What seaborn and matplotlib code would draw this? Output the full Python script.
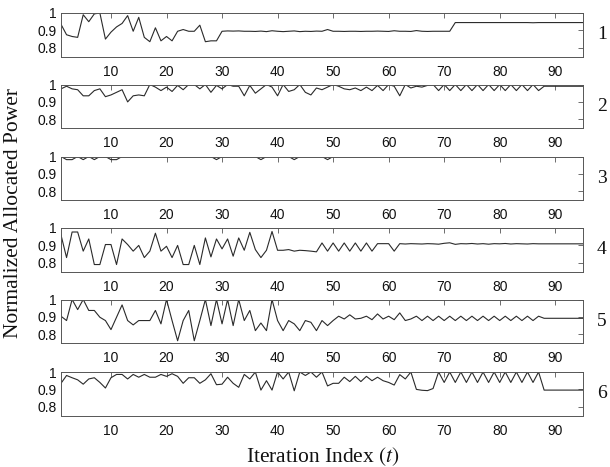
import matplotlib
matplotlib.use("Agg")
import matplotlib.pyplot as plt
import numpy as np
import pandas as pd
import seaborn as sns

# ---------------- data ----------------
t = list(range(1, 96))

p1 = [0.935, 0.875, 0.865, 0.86, 0.99, 0.95, 0.995, 1.0, 0.85, 0.89,
      0.92, 0.94, 0.985, 0.895, 0.975, 0.86, 0.835, 0.915, 0.84, 0.865,
      0.84, 0.895, 0.905, 0.895, 0.895, 0.93, 0.835, 0.84, 0.84, 0.895,
      0.897, 0.896, 0.897, 0.895, 0.895, 0.894, 0.896, 0.893, 0.898, 0.895,
      0.893, 0.895, 0.897, 0.893, 0.895, 0.894, 0.896, 0.895, 0.905, 0.895,
      0.895, 0.894, 0.895, 0.895, 0.894, 0.895, 0.895, 0.896, 0.895, 0.894,
      0.898, 0.895, 0.895, 0.894, 0.899, 0.895, 0.894, 0.895, 0.895, 0.895,
      0.895, 0.945, 0.945, 0.945, 0.945, 0.945, 0.945, 0.945, 0.945, 0.945,
      0.945, 0.945, 0.945, 0.945, 0.945, 0.944, 0.945, 0.945, 0.945, 0.945,
      0.945, 0.945, 0.945, 0.945, 0.945]

p2 = [0.975, 0.99, 0.975, 0.97, 0.935, 0.935, 0.965, 0.975, 0.93, 0.94,
      0.955, 0.97, 0.9, 0.935, 0.94, 0.935, 1.0, 0.985, 0.965, 0.985,
      0.96, 0.995, 0.97, 1.0, 1.0, 0.975, 1.0, 0.955, 0.995, 0.975,
      1.0, 0.99, 0.99, 0.935, 0.995, 0.95, 0.975, 1.0, 0.985, 0.935,
      1.0, 0.96, 0.97, 1.0, 0.955, 0.94, 0.98, 0.97, 0.985, 1.0,
      0.99, 0.975, 0.97, 0.98, 0.965, 0.985, 0.965, 0.995, 0.965, 1.0,
      0.99, 0.935, 1.0, 0.98, 0.99, 0.985, 0.995, 1.0, 0.965, 1.0,
      0.965, 1.0, 0.965, 1.0, 0.965, 1.0, 0.965, 1.0, 0.965, 1.0,
      0.965, 1.0, 0.965, 1.0, 0.965, 1.0, 0.965, 0.99, 0.99, 0.99,
      0.99, 0.99, 0.99, 0.99, 0.99]

p3 = [1.0, 0.982, 0.982, 1.0, 0.982, 1.0, 0.982, 1.0, 1.0, 0.982,
      0.982, 1.0, 1.0, 1.0, 1.0, 1.0, 1.0, 1.0, 1.0, 1.0,
      1.0, 1.0, 1.0, 1.0, 1.0, 1.0, 1.0, 1.0, 0.982, 1.0,
      1.0, 1.0, 1.0, 1.0, 1.0, 1.0, 0.982, 1.0, 1.0, 1.0,
      1.0, 1.0, 0.982, 1.0, 1.0, 1.0, 1.0, 1.0, 0.982, 1.0,
      1.0, 1.0, 1.0, 1.0, 1.0, 1.0, 1.0, 1.0, 1.0, 1.0,
      1.0, 1.0, 1.0, 1.0, 1.0, 1.0, 1.0, 1.0, 1.0, 1.0,
      1.0, 1.0, 1.0, 1.0, 1.0, 1.0, 1.0, 1.0, 1.0, 1.0,
      1.0, 1.0, 1.0, 1.0, 1.0, 1.0, 1.0, 1.0, 1.0, 1.0,
      1.0, 1.0, 1.0, 1.0, 1.0]

p4 = [0.96, 0.83, 0.977, 0.977, 0.867, 0.937, 0.79, 0.79, 0.905, 0.905,
      0.79, 0.937, 0.905, 0.867, 0.9, 0.83, 0.867, 0.97, 0.867, 0.895,
      0.83, 0.9, 0.79, 0.79, 0.9, 0.79, 0.943, 0.834, 0.937, 0.88,
      0.937, 0.838, 0.943, 0.872, 0.975, 0.876, 0.83, 0.872, 0.98, 0.872,
      0.872, 0.876, 0.867, 0.872, 0.87, 0.867, 0.863, 0.914, 0.867, 0.914,
      0.867, 0.914, 0.867, 0.914, 0.867, 0.914, 0.867, 0.91, 0.91, 0.91,
      0.867, 0.91, 0.908, 0.91, 0.909, 0.908, 0.91, 0.909, 0.907, 0.912,
      0.915, 0.906, 0.91, 0.909, 0.911, 0.908, 0.91, 0.907, 0.91, 0.909,
      0.911, 0.908, 0.91, 0.909, 0.908, 0.91, 0.909, 0.909, 0.909, 0.909,
      0.909, 0.909, 0.909, 0.909, 0.909]

p5 = [0.904, 0.879, 1.0, 0.942, 1.0, 0.937, 0.937, 0.898, 0.879, 0.827,
      0.898, 0.969, 0.879, 0.854, 0.879, 0.879, 0.879, 0.937, 0.86, 1.0,
      0.879, 0.763, 0.879, 0.937, 0.763, 0.879, 1.0, 0.85, 1.0, 0.86,
      1.0, 0.85, 1.0, 0.879, 0.937, 0.821, 0.865, 0.821, 1.0, 0.879,
      0.821, 0.879, 0.86, 0.821, 0.879, 0.869, 0.821, 0.879, 0.85, 0.879,
      0.904, 0.888, 0.912, 0.888, 0.892, 0.904, 0.884, 0.917, 0.888, 0.904,
      0.884, 0.923, 0.879, 0.888, 0.904, 0.879, 0.904, 0.879, 0.904, 0.879,
      0.904, 0.879, 0.904, 0.879, 0.904, 0.879, 0.904, 0.879, 0.904, 0.879,
      0.904, 0.879, 0.904, 0.879, 0.904, 0.879, 0.904, 0.892, 0.892, 0.892,
      0.892, 0.892, 0.892, 0.892, 0.892]

p6 = [0.935, 0.98, 0.967, 0.955, 0.93, 0.96, 0.967, 0.94, 0.908, 0.967,
      0.986, 0.986, 0.96, 0.986, 0.97, 0.986, 0.97, 0.97, 0.986, 0.975,
      0.99, 0.975, 0.935, 0.967, 0.967, 0.935, 0.955, 0.99, 0.927, 0.93,
      0.97, 0.935, 0.912, 0.986, 0.96, 1.0, 0.896, 0.95, 0.896, 1.0,
      0.96, 1.0, 0.892, 1.0, 0.98, 1.0, 0.97, 1.0, 0.92, 0.935,
      0.935, 0.97, 0.945, 0.975, 0.945, 0.975, 0.95, 0.97, 0.95, 0.94,
      0.925, 0.985, 0.96, 1.0, 0.9, 0.895, 0.893, 0.905, 1.0, 0.94,
      1.0, 0.94, 1.0, 0.94, 1.0, 0.94, 1.0, 0.94, 1.0, 0.94,
      1.0, 0.94, 1.0, 0.94, 1.0, 0.94, 1.0, 0.896, 0.896, 0.896,
      0.896, 0.896, 0.896, 0.896, 0.896]

series = [p1, p2, p3, p4, p5, p6]
panel_labels = ["1", "2", "3", "4", "5", "6"]
x_ticks = [10, 20, 30, 40, 50, 60, 70, 80, 90]
y_ticks = [0.8, 0.9, 1.0]
y_ticklabels = ["0.8", "0.9", "1"]
ylabel = "Normalized Allocated Power"
xlabel = "Iteration Index $(t)$"

# ---------------- style ----------------
sns.set_style("white")
plt.rcParams["font.family"] = ["Liberation Sans", "DejaVu Sans"]
plt.rcParams["mathtext.fontset"] = "stix"

W, H = 610, 467
fig = plt.figure(figsize=(W / 100, H / 100), dpi=100)

left_px, right_px = 61, 583
tops = [13, 84.5, 156.5, 228, 299.5, 372]
ax_h = 43.5
spine_c = "#555555"

for i, (vals, lab) in enumerate(zip(series, panel_labels)):
    top = tops[i]
    ax = fig.add_axes([left_px / W, 1 - (top + ax_h) / H,
                       (right_px - left_px) / W, ax_h / H])
    df = pd.DataFrame({"t": t, "v": vals})
    sns.lineplot(data=df, x="t", y="v", ax=ax, color="#2a2a2a", lw=0.8)
    ax.set_xlim(1, 95)
    ax.set_ylim(0.75, 1.0)
    ax.set_xticks(x_ticks)
    ax.set_yticks(y_ticks)
    ax.set_yticklabels(y_ticklabels)
    ax.set_xlabel("")
    ax.set_ylabel("")
    ax.tick_params(direction="in", top=True, right=True, length=3.5,
                   width=0.6, color=spine_c, labelsize=10, labelcolor="#111111")
    ax.tick_params(axis="x", pad=6)
    ax.tick_params(axis="y", pad=3)
    for s in ax.spines.values():
        s.set_color(spine_c)
        s.set_linewidth(0.7)
    ax.text(1.036, 0.5, lab, transform=ax.transAxes, ha="center", va="center",
            fontsize=14, family=["Liberation Serif", "DejaVu Serif"], color="#111111")

fig.text(13.5 / W, 1 - 213 / H, ylabel, rotation=90, ha="center", va="center",
         fontsize=15.5, family=["Liberation Serif", "DejaVu Serif"], color="#111111")
fig.text(323 / W, 1 - 462 / H, xlabel, ha="center", va="baseline",
         fontsize=15.5, family=["Liberation Serif", "DejaVu Serif"], color="#111111")

fig.savefig("out.png", dpi=100)
